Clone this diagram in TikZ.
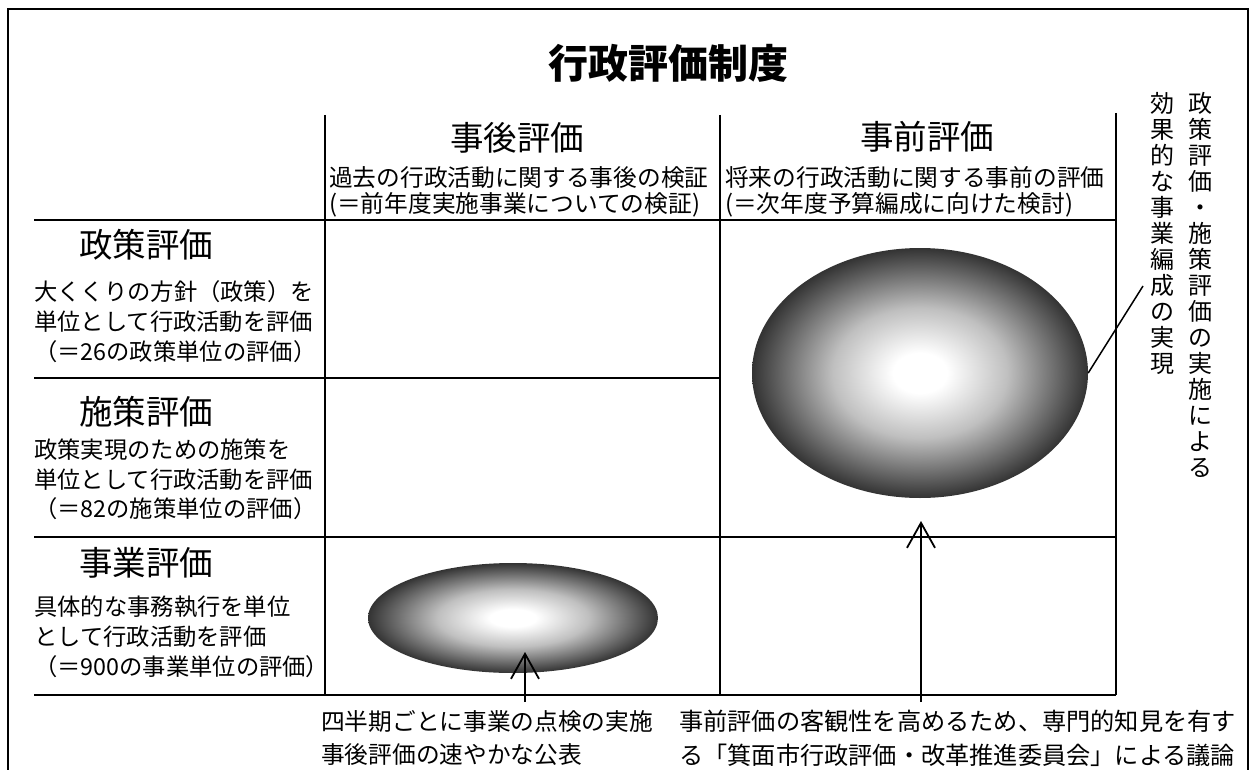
\documentclass[tikz,border=0pt]{standalone}
\usepackage{fontspec}
\newfontfamily\cjk{Noto Sans CJK JP}
\usetikzlibrary{shapes.geometric,arrows.meta}
\pgfdeclareradialshading{orb}{\pgfpoint{0bp}{0bp}}{color(0bp)=(white); color(4bp)=(white); color(13bp)=(black!25); color(25bp)=(black!80); color(50bp)=(black!80)}
\begin{document}
\begin{tikzpicture}[x=1pt,y=-1pt,
  rule/.style={line width=1.8pt},
  frame/.style={line width=1.6pt},
  body/.style={inner sep=0pt, anchor=base west, font=\cjk\fontsize{23.3}{25}\selectfont},
  sub/.style={inner sep=0pt, anchor=base west, font=\cjk\fontsize{23.7}{25}\selectfont},
  note/.style={inner sep=0pt, anchor=base west, font=\cjk\fontsize{24.2}{25}\selectfont},
  head/.style={inner sep=0pt, anchor=base, font=\cjk\fontsize{33.5}{36}\selectfont},
  rowhead/.style={inner sep=0pt, anchor=base west, font=\cjk\fontsize{33.5}{36}\selectfont},
  vert/.style={inner sep=0pt, anchor=north, align=center, font=\cjk\fontsize{24}{26}\selectfont},
  orbnode/.style={ellipse, inner sep=0pt, draw=none, shade, shading=orb},
  arr/.style={line width=1.8pt, -{Straight Barb[length=25pt, width=28pt]}},
  lead/.style={line width=1.5pt}]
\useasboundingbox (0,0) rectangle (1252,770);
\clip (0,0) rectangle (1252,770);
\draw[frame] (8,9) rectangle (1248,800);
% grid
\draw[rule] (325,115) -- (325,695);
\draw[rule] (720,115) -- (720,695);
\draw[rule] (1116,113) -- (1116,695);
\draw[rule] (34,220) -- (1116,220);
\draw[rule] (34,378) -- (720,378);
\draw[rule] (34,537) -- (1116,537);
\draw[rule] (34,695) -- (1116,695);
% ellipses
\node[orbnode, minimum width=336pt, minimum height=250pt] (big) at (920,373) {};
\node[orbnode, minimum width=290pt, minimum height=110pt] (small) at (513,618) {};
% title
\node[inner sep=0pt, anchor=base, font=\cjk\bfseries\fontsize{40}{44}\selectfont] (title) at (668.5,78.7) {行政評価制度};
% column heads
\node[head] (jigo) at (517,150.5) {事後評価};
\node[sub] (jigo1) at (329,186.5) {過去の行政活動に関する事後の検証};
\node[sub] (jigo2) at (329,212.5) {(＝前年度実施事業についての検証)};
\node[head] (jizen) at (927,150) {事前評価};
\node[sub] (jizen1) at (725,186.5) {将来の行政活動に関する事前の評価};
\node[sub] (jizen2) at (725,212.5) {(＝次年度予算編成に向けた検討)};
% row heads
\node[rowhead] (seisaku) at (79,257.7) {政策評価};
\node[body] (seisaku1) at (34,300.6) {大くくりの方針（政策）を};
\node[body] (seisaku2) at (34,330.6) {単位として行政活動を評価};
\node[body] (seisaku3) at (34,360.6) {（＝26の政策単位の評価）};
\node[rowhead] (shisaku) at (79,424.4) {施策評価};
\node[body] (shisaku1) at (34,458.9) {政策実現のための施策を};
\node[body] (shisaku2) at (34,488.9) {単位として行政活動を評価};
\node[body] (shisaku3) at (34,517.9) {（＝82の施策単位の評価）};
\node[rowhead] (jigyo) at (79,575.7) {事業評価};
\node[body] (jigyo1) at (34,615.9) {具体的な事務執行を単位};
\node[body] (jigyo2) at (34,645.9) {として行政活動を評価};
\node[body] (jigyo3) at (34,675.9) {（＝900の事業単位の評価）};
% bottom notes
\node[sub] (b1) at (321,730.6) {四半期ごとに事業の点検の実施};
\node[sub] (b2) at (321,763.9) {事後評価の速やかな公表};
\node[note] (b3) at (679,730.9) {事前評価の客観性を高めるため、専門的知見を有す};
\node[note] (b4) at (679,764.2) {る「箕面市行政評価・改革推進委員会」による議論};
% vertical text
\node[vert] (v1) at (1200,92) {政\\策\\評\\価\\・\\施\\策\\評\\価\\の\\実\\施\\に\\よ\\る};
\node[vert] (v2) at (1162,92) {効\\果\\的\\な\\事\\業\\編\\成\\の\\実\\現};
% connectors
\coordinate (a1s) at (525,702);
\coordinate (a1t) at (525,652);
\coordinate (a2s) at (921,702);
\coordinate (a2t) at (921,521);
\coordinate (lend) at (1143,286);
\draw[arr] (a1s) -- (a1t);
\draw[arr] (a2s) -- (a2t);
\draw[lead] (big.east) -- (lend);
\end{tikzpicture}
\end{document}
